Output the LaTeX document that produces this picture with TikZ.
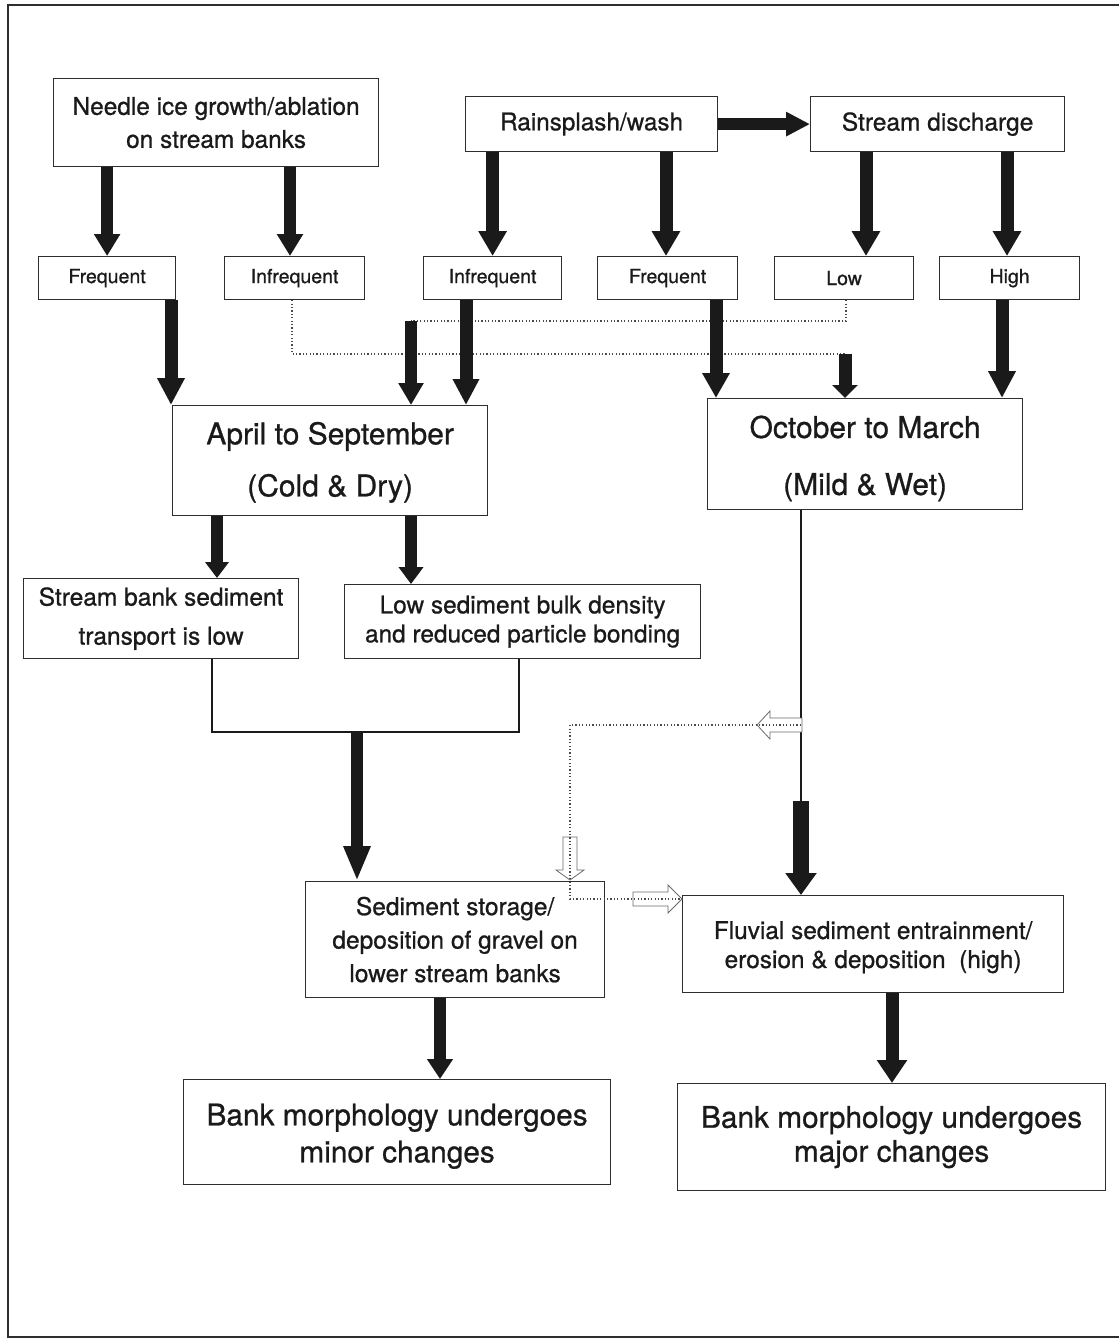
\documentclass[tikz,border=0pt]{standalone}
\usepackage{fontspec}
\setmainfont{TeX Gyre Heros}[FakeBold=0.8]
\usetikzlibrary{arrows.meta}
\definecolor{ink}{HTML}{1A1A1A}
\definecolor{edge}{HTML}{2E2E2E}
\definecolor{dotc}{HTML}{4A4A4A}
\definecolor{hollowc}{HTML}{6A6A6A}
\newcommand{\fs}[2]{\fontsize{#1}{#2}\selectfont}
\newcommand{\lift}[1]{\rule{0pt}{#1}}
\begin{document}
\begin{tikzpicture}[x=1pt,y=-1pt,
  box/.style={draw=edge, line width=1.2pt, inner sep=0pt, anchor=north west,
              align=center, text=ink},
  tag/.style={box, minimum height=43pt, font=\fs{19.5}{22}},
  fat/.style n args={3}{draw=ink, line width=#1, -{Triangle[length=#2,width=#3]}},
  wire/.style={draw=ink, line width=1.4pt},
  dots/.style={draw=dotc, line width=1.2pt, dash pattern=on 1.2pt off 2.2pt},
  hollow/.style={draw=hollowc, line width=0.8pt, fill=white, line join=miter}]
\useasboundingbox (0,0) rectangle (1119,1341);
% outer frame (open on the right)
\draw[edge, line width=1.4pt] (1119,5) -- (8,5) -- (8,1337) -- (1119,1337);

% ---------- boxes ----------
\node[box, minimum width=325pt, minimum height=88pt, font=\fs{24.4}{33}]
  (needle) at (53,78) {Needle ice growth/ablation\\on stream banks};
\node[box, minimum width=252pt, minimum height=55pt, font=\fs{24.3}{30}]
  (rain) at (465,96) {Rainsplash/wash};
\node[box, minimum width=254pt, minimum height=55pt, font=\fs{24.5}{30}]
  (sd) at (810,96) {Stream discharge};

\node[tag, minimum width=137pt] (fqL)  at (38,256)  {Frequent};
\node[tag, minimum width=140pt] (infL) at (224,256) {Infrequent};
\node[tag, minimum width=138pt] (infR) at (423,256) {Infrequent};
\node[tag, minimum width=140pt] (fqR)  at (597,256) {Frequent};
\node[tag, minimum width=139pt] (low)  at (774,256) {Low};
\node[tag, minimum width=140pt] (high) at (939,256) {High};

\node[box, minimum width=315pt, minimum height=110pt, font=\fs{30}{52}]
  (april) at (172,405) {\lift{26pt}April to September\\(Cold \& Dry)};
\node[box, minimum width=315pt, minimum height=111pt, font=\fs{30}{57}]
  (oct) at (707,398) {\lift{31pt}October to March\\(Mild \& Wet)};

\node[box, minimum width=275pt, minimum height=80pt, font=\fs{24.5}{39}]
  (sbank) at (23,578) {Stream bank sediment\\transport is low};
\node[box, minimum width=356pt, minimum height=74pt, font=\fs{24.4}{29}]
  (lowsed) at (344,584) {Low sediment bulk density\\and reduced particle bonding};

\node[box, minimum width=299pt, minimum height=116pt, font=\fs{24.5}{33.5}]
  (store) at (305,881) {Sediment storage/\\deposition of gravel on\\lower stream banks};
\node[box, minimum width=381pt, minimum height=97pt, font=\fs{24.4}{29}]
  (fluv) at (682,895) {\lift{24pt}Fluvial sediment entrainment/\\erosion \& deposition~~(high)};

\node[box, minimum width=427pt, minimum height=105pt, font=\fs{29.8}{37}]
  (minor) at (183,1079) {\lift{30pt}Bank morphology undergoes\\minor changes};
\node[box, minimum width=428pt, minimum height=107pt, font=\fs{29.8}{34}]
  (major) at (677,1083) {Bank morphology undergoes\\major changes};

% ---------- dotted cross links ----------
\coordinate (dA) at (292,354);
\coordinate (dB) at (845,354);
\coordinate (dC) at (846,321);
\coordinate (dD) at (411,321);
\draw[dots] (292,0 |- infL.south) -- (dA) -- (dB);
\draw[dots] (dC |- low.south) -- (dC) -- (dD);

% ---------- heavy arrows, top tier ----------
\draw[fat={12pt}{24pt}{23pt}] (rain.east) -- (sd.west);
\draw[fat={12pt}{22pt}{25pt}] (fqL.north |- needle.south) -- (fqL.north);
\draw[fat={12pt}{22pt}{25pt}] (290,0 |- needle.south) -- (290,0 |- infL.north);
\draw[fat={13pt}{25pt}{27pt}] (infR.north |- rain.south) -- (infR.north);
\draw[fat={13pt}{25pt}{27pt}] (666,0 |- rain.south) -- (666,0 |- fqR.north);
\draw[fat={13pt}{25pt}{27pt}] (866,0 |- sd.south) -- (866,0 |- low.north);
\draw[fat={13pt}{25pt}{27pt}] (1007,0 |- sd.south) -- (1007,0 |- high.north);

% ---------- into the two seasons ----------
\draw[fat={13pt}{27pt}{26pt}] (171,0 |- fqL.south) -- (171,0 |- april.north);
\draw[fat={13pt}{26pt}{25pt}] (466,0 |- infR.south) -- (466,0 |- april.north);
\draw[fat={12pt}{22pt}{24pt}] (dD) -- (dD |- april.north);
\draw[fat={13pt}{25pt}{26pt}] (716,0 |- fqR.south) -- (716,0 |- oct.north);
\draw[fat={13pt}{13pt}{25pt}] (dB) -- (dB |- oct.north);
\draw[fat={13pt}{27pt}{26pt}] (1002,0 |- high.south) -- (1002,0 |- oct.north);

% ---------- April to September branch ----------
\draw[fat={12pt}{16pt}{23pt}] (217,0 |- april.south) -- (217,0 |- sbank.north);
\draw[fat={12pt}{17pt}{24pt}] (411,0 |- april.south) -- (411,0 |- lowsed.north);
\coordinate (jl) at (212,732);
\coordinate (jr) at (519,732);
\coordinate (jm) at (357,732);
\draw[wire] (jl |- sbank.south) -- (jl) -- (jr) -- (jr |- lowsed.south);
\draw[fat={12pt}{35pt}{25pt}] (jm) -- (jm |- store.north);
\draw[fat={12pt}{20pt}{25pt}] (440,0 |- store.south) -- (440,0 |- minor.north);

% ---------- October to March branch ----------
\coordinate (tap) at (801,725);
\coordinate (drop) at (801,801);
\draw[wire] (drop |- oct.south) -- (drop);
\draw[fat={16pt}{22pt}{30pt}] (drop) -- (drop |- fluv.north);
\draw[fat={13pt}{23pt}{29pt}] (892,0 |- fluv.south) -- (892,0 |- major.north);

% ---------- hollow feedback arrows and their dotted path ----------
\draw[hollow] (802,718) -- (770,718) -- (770,711) -- (757,725) -- (770,739)
  -- (770,732) -- (802,732) -- cycle;
\draw[hollow] (563,837) -- (577,837) -- (577,870) -- (584,870) -- (570,880)
  -- (556,870) -- (563,870) -- cycle;
\draw[hollow] (633,892) -- (668,892) -- (668,885) -- (682,899) -- (668,913)
  -- (668,906) -- (633,906) -- cycle;
\draw[dots] (tap) -- (570,725) -- (570,899) -- (fluv.west |- 0,899);
\end{tikzpicture}
\end{document}
